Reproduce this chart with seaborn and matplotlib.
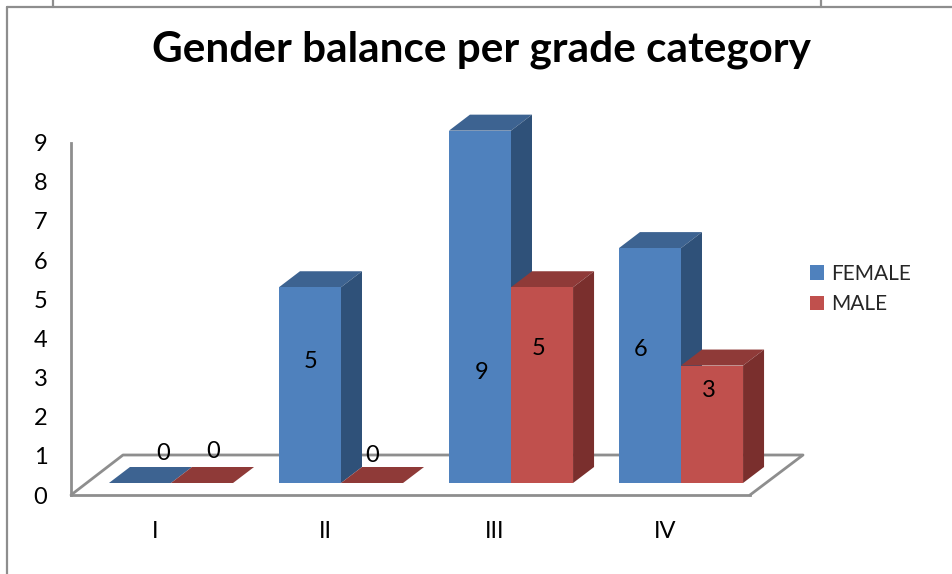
import matplotlib
matplotlib.use('Agg')
import matplotlib.pyplot as plt
import pandas as pd
import seaborn as sns
from matplotlib.lines import Line2D
from matplotlib.patches import Polygon
from matplotlib.transforms import IdentityTransform

# Data
grades = ['I', 'II', 'III', 'IV']
female = [0, 5, 9, 6]
male = [0, 0, 5, 3]

W, H = 952, 574
UNIT = 39.15          # pixels per unit on the y scale
DX, DY = 21, 16       # bar depth in pixels
GREY = '#8e8e8e'

# Colours: front, top, side
blue = ['#4f81bd', '#3d6391', '#2f5179']
red = ['#c0504d', '#8f3a38', '#7a2f2d']

# Value label offsets from the bar's top centre, in pixels (right, up)
label_offsets = [(23, 29), (1, -74), (2, -242), (-9, -101),
                 (11, 32), (0, 28), (-3, -61), (-3, -25)]

df = pd.DataFrame({
    'grade': grades * 2,
    'count': female + male,
    'gender': ['FEMALE'] * 4 + ['MALE'] * 4
})

sns.set_style('white')
plt.rcParams['font.family'] = ['Lato', 'DejaVu Sans']


# Axes box from picture pixels (y measured from the top)
def box(left, right, top, bottom):
    return [left / W, 1 - bottom / H, (right - left) / W, (bottom - top) / H]


fig = plt.figure(figsize=(W / 100, H / 100), dpi=100)

# Back axes holds the walls and tick labels
ax_back = fig.add_axes(box(71, 750, 495 - 9 * UNIT, 495), zorder=0)
ax_back.set_xlim((71 - 155) / 170, (750 - 155) / 170)
ax_back.set_ylim(0, 9)
ax_back.set_xticks(range(4), grades)
ax_back.set_yticks(range(10))
ax_back.tick_params(axis='both', length=0, labelsize=17, labelcolor='black')
ax_back.tick_params(axis='x', pad=19)
ax_back.tick_params(axis='y', pad=17)
for side in ['top', 'right']:
    ax_back.spines[side].set_visible(False)
for side in ['left', 'bottom']:
    ax_back.spines[side].set_color(GREY)
    ax_back.spines[side].set_linewidth(2)

# Floor of the 3D box, worked out from the back axes corners
(x0, y0), (x1, y1) = ax_back.transAxes.transform([(0, 0), (1, 0)])
floor = Line2D([x0, x0 + 52, x1 + 53, x1], [y0, y0 + 40, y0 + 40, y1],
               transform=IdentityTransform(), color=GREY, lw=2, clip_on=False)
ax_back.add_line(floor)

# Front axes holds the bars
ax = fig.add_axes(box(71, 750, 483 - 9 * UNIT, 483), zorder=1)
ax.patch.set_alpha(0)
sns.barplot(data=df, x='grade', y='count', hue='gender', ax=ax, saturation=1, linewidth=0,
            palette={'FEMALE': blue[0], 'MALE': red[0]}, width=0.73, gap=0, zorder=4)
ax.set_xlim((71 - 171) / 170, (750 - 171) / 170)
ax.set_ylim(0, 9)
ax.set_axis_off()

# Top and side faces are built from the bars seaborn drew
bars = [bar for container in ax.containers for bar in container]
for i, bar in enumerate(bars):
    colors = blue if i < 4 else red
    xa, ya = ax.transData.transform((bar.get_x(), 0))
    xb, yb = ax.transData.transform((bar.get_x() + bar.get_width(), bar.get_height()))
    z = 2 if i < 4 else 3
    top = Polygon([(xa, yb), (xb, yb), (xb + DX, yb + DY), (xa + DX, yb + DY)],
                  transform=IdentityTransform(), fc=colors[1], ec='none', zorder=z, clip_on=False)
    ax.add_patch(top)
    if bar.get_height() > 0:
        side = Polygon([(xb, ya), (xb + DX, ya + DY), (xb + DX, yb + DY), (xb, yb)],
                       transform=IdentityTransform(), fc=colors[2], ec='none', zorder=z, clip_on=False)
        ax.add_patch(side)
    off = label_offsets[i]
    ax.text((xa + xb) / 2 + off[0], yb + off[1], str(int(bar.get_height())), fontsize=17,
            transform=IdentityTransform(), ha='center', va='center', color='black',
            zorder=6, clip_on=False)

# Legend
sns.move_legend(ax, 'center left', bbox_to_anchor=(791 / W, 1 - 289 / H),
                bbox_transform=fig.transFigure, title=None, frameon=False, fontsize=15,
                handlelength=0.7, handleheight=0.7, handletextpad=0.34, labelspacing=0.5)

# Title
fig.text(481 / W, 1 - 50 / H, 'Gender balance per grade category', fontsize=30.4,
         fontweight='bold', ha='center', va='center', color='black')

# Chart frame and the table lines above it
for xs, ys in [([7, 7], [574, 7]), ([7, 952], [7, 7]), ([53, 53], [0, 7]), ([821, 821], [0, 7])]:
    fig.add_artist(Line2D([x / W for x in xs], [1 - y / H for y in ys], color=GREY, lw=1.6))

fig.savefig('out.png', dpi=100)
